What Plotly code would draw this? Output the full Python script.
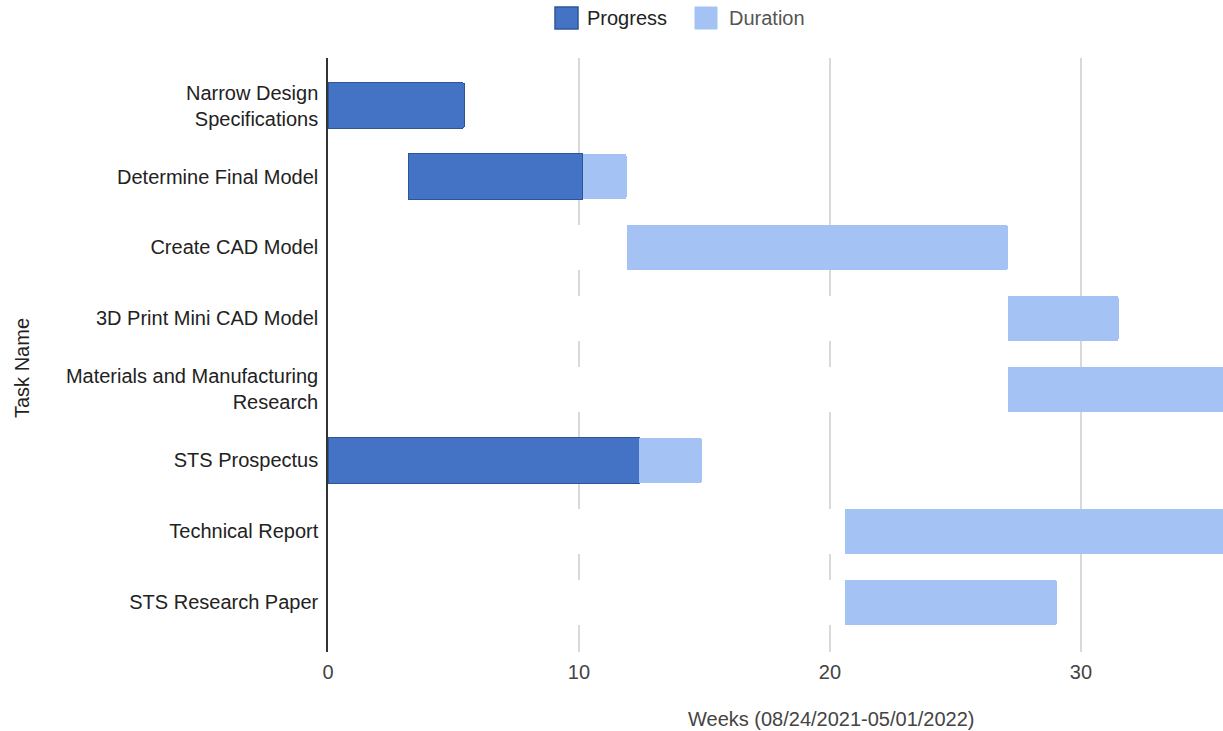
import plotly.graph_objects as go

tasks = [
    "Narrow Design<br>Specifications",
    "Determine Final Model",
    "Create CAD Model",
    "3D Print Mini CAD Model",
    "Materials and Manufacturing<br>Research",
    "STS Prospectus",
    "Technical Report",
    "STS Research Paper",
]
start_week = [0, 3.2, 11.9, 27.1, 27.1, 0, 20.6, 20.6]
progress_weeks = [5.45, 6.95, 0, 0, 0, 12.4, 0, 0]
duration_weeks = [5.45, 8.7, 15.2, 4.4, 9.0, 14.9, 15.5, 8.45]
remaining_weeks = [d - p for d, p in zip(duration_weeks, progress_weeks)]

x_ticks = [0, 10, 20, 30]

DARK = "#4472C4"
LIGHT = "#A4C2F4"
FONT = "Liberation Sans, Arial, sans-serif"

W, H = 1223, 731
L, T, B = 328, 58, 79
PW, PH = W - L, H - T - B


def px(x):
    return (x - L) / PW


def py(y):
    return (H - B - y) / PH


fig = go.Figure()
fig.add_trace(go.Bar(
    y=tasks, x=start_week, orientation="h", name="start",
    marker=dict(color="white", line=dict(width=0)), showlegend=False,
    hoverinfo="skip",
))
fig.add_trace(go.Bar(
    y=tasks, x=progress_weeks, orientation="h", name="Progress",
    marker=dict(color=DARK,
                line=dict(color="#2E5597",
                          width=[1 if p > 0 else 0 for p in progress_weeks])),
    showlegend=False,
))
fig.add_trace(go.Bar(
    y=tasks, x=remaining_weeks, orientation="h", name="Duration",
    marker=dict(color=LIGHT, line=dict(width=0), cornerradius=3), showlegend=False,
))

fig.update_layout(
    width=W, height=H,
    margin=dict(l=L, r=0, t=T, b=B, pad=0),
    barmode="stack", bargap=0.36,
    plot_bgcolor="white", paper_bgcolor="white",
    font=dict(family=FONT, size=20, color="#222222"),
    showlegend=False,
    xaxis=dict(
        range=[0, 35.66], tickvals=x_ticks, ticktext=[str(v) for v in x_ticks],
        showgrid=True, gridcolor="#D9D9D9", gridwidth=2,
        zeroline=False, showline=False, ticks="",
        ticklabelstandoff=6,
        tickfont=dict(size=20, color="#444444"),
    ),
    yaxis=dict(
        type="category", categoryorder="array", categoryarray=tasks,
        range=[7.70, -0.67],
        showgrid=False, zeroline=False,
        showline=True, linecolor="#333333", linewidth=1.5,
        ticks="", ticklabelstandoff=4,
        tickfont=dict(size=20, color="#222222"),
    ),
)

# legend drawn at top
fig.add_shape(type="rect", xref="paper", yref="paper",
              x0=px(555), x1=px(578), y0=py(29), y1=py(7),
              fillcolor=DARK, line=dict(color="#2E5597", width=1.5))
fig.add_shape(type="rect", xref="paper", yref="paper",
              x0=px(695), x1=px(717), y0=py(29), y1=py(7),
              fillcolor=LIGHT, line=dict(color=LIGHT, width=1))
fig.add_annotation(text="Progress", xref="paper", yref="paper",
                   x=px(585), y=py(18), xanchor="left", yanchor="middle",
                   showarrow=False, font=dict(size=20, color="#222222"))
fig.add_annotation(text="Duration", xref="paper", yref="paper",
                   x=px(727), y=py(18), xanchor="left", yanchor="middle",
                   showarrow=False, font=dict(size=20, color="#555555"))

# axis titles
fig.add_annotation(text="Weeks (08/24/2021-05/01/2022)", xref="paper", yref="paper",
                   x=px(831), y=py(719), xanchor="center", yanchor="middle",
                   showarrow=False, font=dict(size=20, color="#444444"))
fig.add_annotation(text="Task Name", xref="paper", yref="paper",
                   x=px(22), y=py(368), xanchor="center", yanchor="middle",
                   textangle=-90, showarrow=False, font=dict(size=20, color="#222222"))

fig.write_html("out.html")
